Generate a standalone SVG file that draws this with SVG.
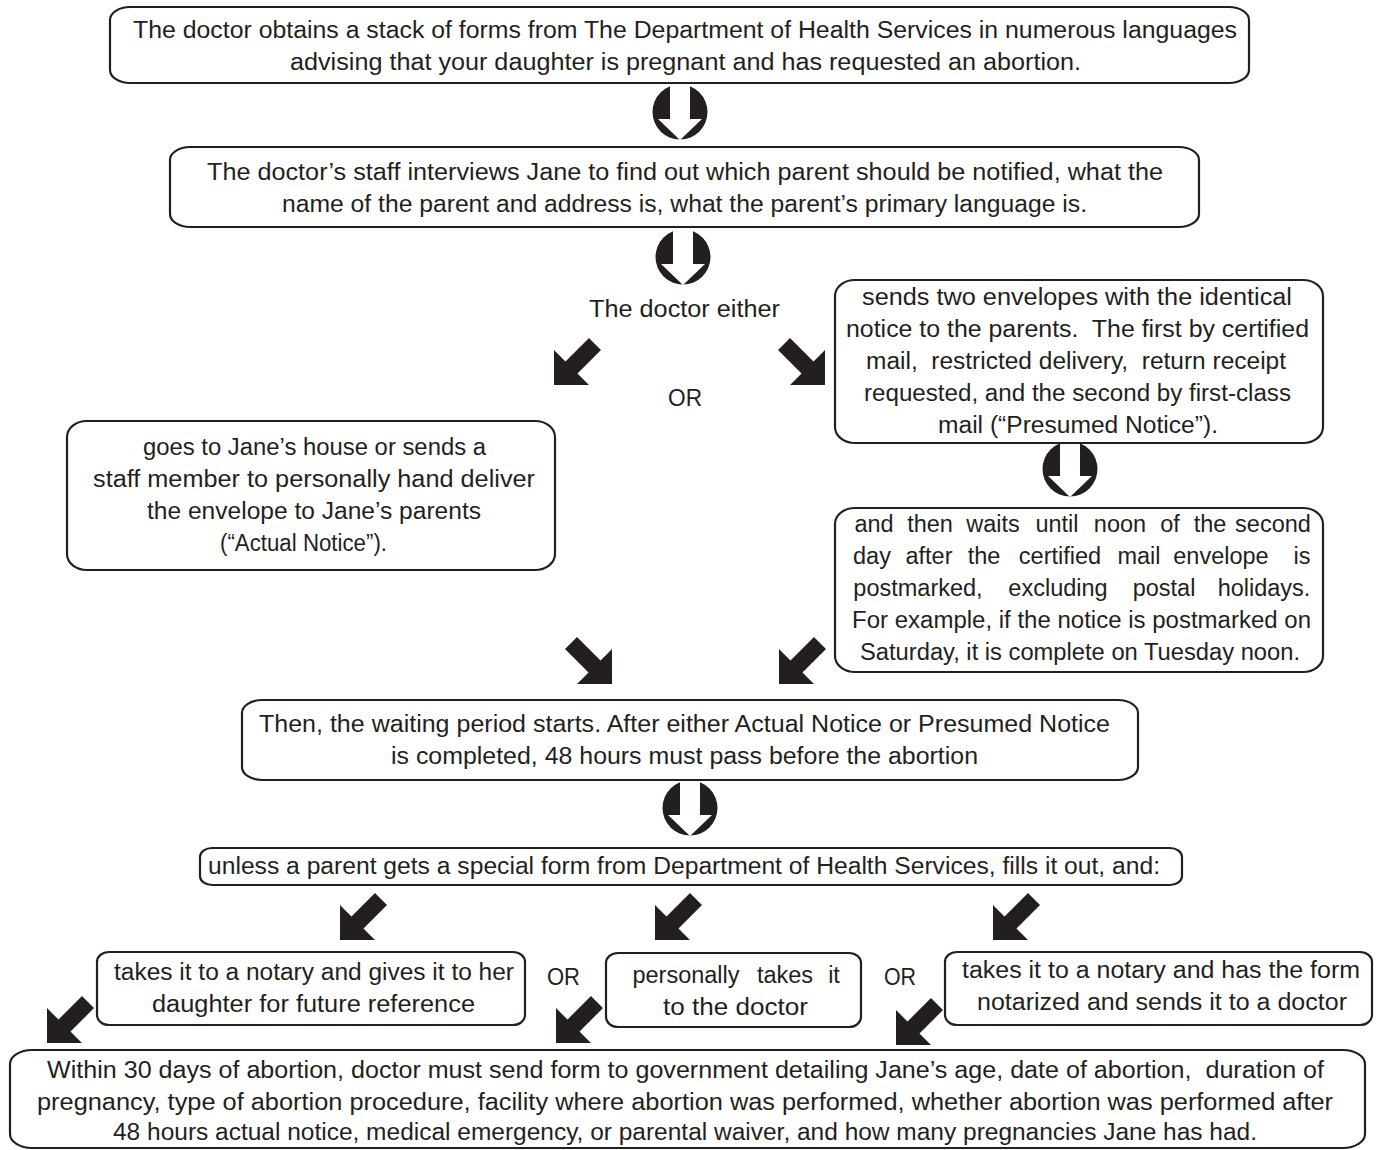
<svg xmlns="http://www.w3.org/2000/svg" xmlns:xlink="http://www.w3.org/1999/xlink" width="1377" height="1150" viewBox="0 0 1377 1150">
<style>
.box{fill:#fff;stroke:#231f20;stroke-width:2.2}
text{font-family:"Liberation Sans",Arial,sans-serif;font-size:23.5px;fill:#231f20}
.m{text-anchor:middle}
.arw{fill:#231f20}
</style>
<defs>
<path id="dl" class="arw" d="M0,0 V-35 L11.5,-23.5 L35,-47 L47,-35 L23.5,-11.5 L35,0 Z"/>
<path id="dr" class="arw" d="M0,0 V-35 L-11.5,-23.5 L-35,-47 L-47,-35 L-23.5,-11.5 L-35,0 Z"/>
<g id="dn">
<circle r="27.5" fill="#231f20"/>
<polygon fill="#fff" points="-10,-29 10,-29 10,7 22,7 0,28 -22,7 -10,7"/>
</g>
</defs>
<rect width="1377" height="1150" fill="#fff"/>

<g id="connectors">
<use xlink:href="#dn" x="680" y="112"/>
<use xlink:href="#dn" x="683" y="257"/>
<use xlink:href="#dl" x="554" y="385"/>
<use xlink:href="#dr" x="825" y="385"/>
<use xlink:href="#dn" x="1070" y="469"/>
<use xlink:href="#dr" x="612" y="684"/>
<use xlink:href="#dl" x="779" y="684"/>
<use xlink:href="#dn" x="690" y="808"/>
<use xlink:href="#dl" x="340" y="940"/>
<use xlink:href="#dl" x="655" y="940"/>
<use xlink:href="#dl" x="993" y="940"/>
<use xlink:href="#dl" x="47" y="1043"/>
<use xlink:href="#dl" x="556" y="1043"/>
<use xlink:href="#dl" x="896" y="1045"/>
</g>

<g id="n1">
<rect class="box" x="110" y="7" width="1139" height="76" rx="20" ry="13"/>
<text x="133" y="38" textLength="1104" lengthAdjust="spacingAndGlyphs">The doctor obtains a stack of forms from The Department of Health Services in numerous languages</text>
<text x="290" y="70" textLength="791" lengthAdjust="spacingAndGlyphs">advising that your daughter is pregnant and has requested an abortion.</text>
</g>

<g id="n2">
<rect class="box" x="170" y="147" width="1029" height="80" rx="20" ry="13"/>
<text x="207" y="180" textLength="956" lengthAdjust="spacingAndGlyphs">The doctor’s staff interviews Jane to find out which parent should be notified, what the</text>
<text x="282" y="212" textLength="805" lengthAdjust="spacingAndGlyphs">name of the parent and address is, what the parent’s primary language is.</text>
</g>

<g id="n3">
<text x="589" y="317" textLength="191" lengthAdjust="spacingAndGlyphs">The doctor either</text>
</g>

<g id="n4">
<text x="668" y="406" textLength="34" lengthAdjust="spacingAndGlyphs">OR</text>
</g>

<g id="n5">
<rect class="box" x="835" y="280" width="488" height="163" rx="20" ry="16"/>
<text x="862" y="305" textLength="430" lengthAdjust="spacingAndGlyphs">sends two envelopes with the identical</text>
<text x="846" y="337" textLength="463" lengthAdjust="spacingAndGlyphs" xml:space="preserve">notice to the parents.  The first by certified</text>
<text x="866" y="369" textLength="420" lengthAdjust="spacingAndGlyphs" xml:space="preserve">mail,  restricted delivery,  return receipt</text>
<text x="864" y="401" textLength="427" lengthAdjust="spacingAndGlyphs">requested, and the second by first-class</text>
<text x="938" y="433" textLength="280" lengthAdjust="spacingAndGlyphs">mail (“Presumed Notice”).</text>
</g>

<g id="n6">
<rect class="box" x="67" y="421" width="488" height="149" rx="20" ry="16"/>
<text x="143" y="455" textLength="343" lengthAdjust="spacingAndGlyphs">goes to Jane’s house or sends a</text>
<text x="93" y="487" textLength="442" lengthAdjust="spacingAndGlyphs">staff member to personally hand deliver</text>
<text x="147" y="519" textLength="334" lengthAdjust="spacingAndGlyphs">the envelope to Jane’s parents</text>
<text x="220" y="551" textLength="167" lengthAdjust="spacingAndGlyphs">(“Actual Notice”).</text>
</g>

<g id="n7">
<rect class="box" x="835" y="508" width="488" height="164" rx="20" ry="16"/>
<text class="m" x="874" y="532">and</text>
<text class="m" x="930" y="532">then</text>
<text class="m" x="993" y="532">waits</text>
<text class="m" x="1057" y="532">until</text>
<text class="m" x="1120" y="532">noon</text>
<text class="m" x="1170" y="532">of</text>
<text class="m" x="1210" y="532">the</text>
<text class="m" x="1273" y="532">second</text>
<text class="m" x="872" y="564">day</text>
<text class="m" x="929" y="564">after</text>
<text class="m" x="984" y="564">the</text>
<text class="m" x="1060" y="564">certified</text>
<text class="m" x="1139" y="564">mail</text>
<text class="m" x="1221" y="564">envelope</text>
<text class="m" x="1302" y="564">is</text>
<text class="m" x="918" y="596">postmarked,</text>
<text class="m" x="1058" y="596">excluding</text>
<text class="m" x="1164" y="596">postal</text>
<text class="m" x="1264" y="596">holidays.</text>
<text x="852" y="628" textLength="459" lengthAdjust="spacingAndGlyphs">For example, if the notice is postmarked on</text>
<text x="860" y="660" textLength="440" lengthAdjust="spacingAndGlyphs">Saturday, it is complete on Tuesday noon.</text>
</g>

<g id="n8">
<rect class="box" x="242" y="700" width="896" height="80" rx="20" ry="13"/>
<text x="259" y="732" textLength="851" lengthAdjust="spacingAndGlyphs">Then, the waiting period starts. After either Actual Notice or Presumed Notice</text>
<text x="391" y="764" textLength="587" lengthAdjust="spacingAndGlyphs">is completed, 48 hours must pass before the abortion</text>
</g>

<g id="n9">
<rect class="box" x="200" y="848" width="982" height="37" rx="12" ry="9"/>
<text x="208" y="874" textLength="952" lengthAdjust="spacingAndGlyphs">unless a parent gets a special form from Department of Health Services, fills it out, and:</text>
</g>

<g id="n10">
<rect class="box" x="97" y="952" width="428" height="73" rx="12" ry="10"/>
<text x="114" y="980" textLength="400" lengthAdjust="spacingAndGlyphs">takes it to a notary and gives it to her</text>
<text x="152" y="1012" textLength="323" lengthAdjust="spacingAndGlyphs">daughter for future reference</text>
</g>

<g id="n11">
<text x="547" y="985" textLength="33" lengthAdjust="spacingAndGlyphs">OR</text>
</g>

<g id="n12">
<rect class="box" x="606" y="953" width="255" height="74" rx="12" ry="10"/>
<text class="m" x="686" y="983">personally</text>
<text class="m" x="785" y="983">takes</text>
<text class="m" x="834" y="983">it</text>
<text x="663" y="1015" textLength="145" lengthAdjust="spacingAndGlyphs">to the doctor</text>
</g>

<g id="n13">
<text x="884" y="985" textLength="32" lengthAdjust="spacingAndGlyphs">OR</text>
</g>

<g id="n14">
<rect class="box" x="945" y="952" width="427" height="73" rx="12" ry="10"/>
<text x="962" y="978" textLength="398" lengthAdjust="spacingAndGlyphs">takes it to a notary and has the form</text>
<text x="977" y="1010" textLength="370" lengthAdjust="spacingAndGlyphs">notarized and sends it to a doctor</text>
</g>

<g id="n15">
<rect class="box" x="10" y="1050" width="1355" height="98" rx="22" ry="14"/>
<text x="47" y="1078" textLength="1277" lengthAdjust="spacingAndGlyphs" xml:space="preserve">Within 30 days of abortion, doctor must send form to government detailing Jane’s age, date of abortion,  duration of</text>
<text x="37" y="1110" textLength="1296" lengthAdjust="spacingAndGlyphs">pregnancy, type of abortion procedure, facility where abortion was performed, whether abortion was performed after</text>
<text x="113" y="1140" textLength="1144" lengthAdjust="spacingAndGlyphs">48 hours actual notice, medical emergency, or parental waiver, and how many pregnancies Jane has had.</text>
</g>
</svg>
